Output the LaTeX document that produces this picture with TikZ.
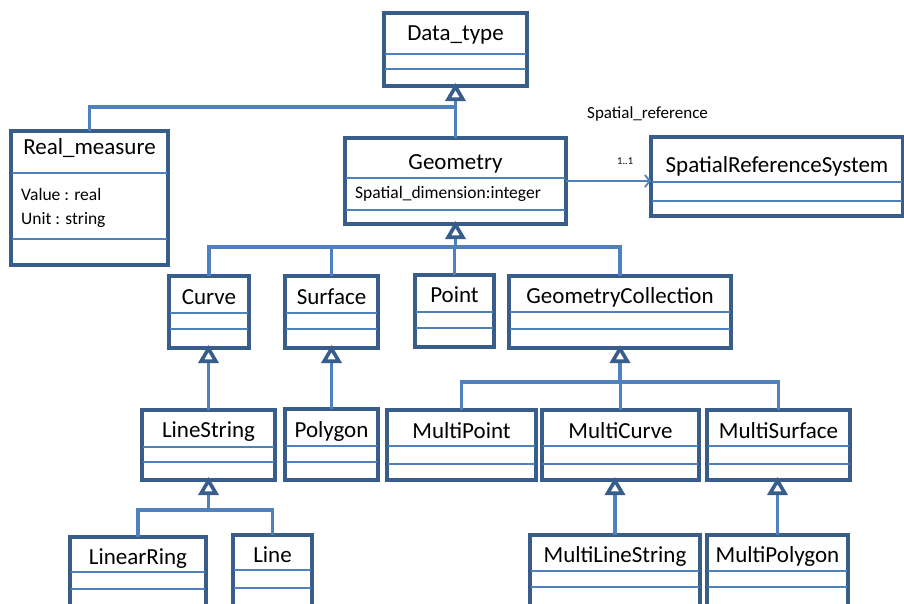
\documentclass[tikz,border=0pt]{standalone}
\usepackage{fontspec}
\setmainfont{Carlito}
\usetikzlibrary{arrows.meta}
\definecolor{umlborder}{HTML}{385D8A}
\definecolor{umlline}{HTML}{4F81BD}
\tikzset{
  classbox/.style={rectangle, draw=umlborder, line width=3.2pt, fill=white, inner sep=0pt, outer sep=0pt},
  sepline/.style={draw=umlline, line width=2.2pt},
  titletext/.style={font=\fontsize{23}{26}\selectfont, anchor=base, inner sep=0pt},
  attrtext/.style={font=\fontsize{17.5}{20}\selectfont, anchor=base west, inner sep=0pt},
  conn/.style={draw=umlline, line width=3.4pt},
  inh/.style={conn, shorten >=-3pt, -{Triangle[color=umlborder, fill=white, length=18pt, width=20pt, line width=3.6pt]}},
  assoc/.style={draw=umlline, line width=1.8pt, -{Straight Barb[length=5pt, width=12pt, line width=1.8pt]}},
  smalllabel/.style={anchor=base west, inner sep=0pt},
}
% class box: name, x1, y1, x2, y2, first separator, second separator, title baseline, title
\newcommand\umlclass[9]{%
  \node[classbox, minimum width={(#4-#2)*1pt}, minimum height={(#5-#3)*1pt}] (#1) at ({(#2+#4)/2},{(#3+#5)/2}) {};
  \draw[sepline] ({#2+1},#6) -- ({#4-1},#6) ({#2+1},#7) -- ({#4-1},#7);
  \node[titletext] (#1-title) at ({(#2+#4)/2},#8) {#9};
}
\begin{document}
\begin{tikzpicture}[x=1pt, y=-1pt]
\useasboundingbox (0,0) rectangle (904,603);
\fill[white] (0,0) rectangle (904,603);
\clip (0,0) rectangle (904,603);

% classes
\umlclass{dt}{384}{13}{527}{86}{54}{69}{40}{Data\_type}
\umlclass{realm}{11}{131}{168}{265}{173}{239}{154}{Real\_measure}
\umlclass{geom}{345}{138}{566}{224}{178}{210}{169}{Geometry}
\umlclass{srs}{651}{137}{903}{216}{182}{201}{172}{SpatialReferenceSystem}
\umlclass{curve}{169}{276}{249}{348}{313}{329}{304}{Curve}
\umlclass{surface}{285}{276}{378}{348}{313}{329}{304}{Surface}
\umlclass{point}{415}{275}{494}{347}{312}{328}{302}{Point}
\umlclass{gc}{509}{276}{731}{348}{312}{329}{303}{GeometryCollection}
\umlclass{lstring}{142}{410}{275}{480}{447}{462}{437}{LineString}
\umlclass{polygon}{285}{409}{378}{480}{446}{462}{437}{Polygon}
\umlclass{mpoint}{387}{410}{536}{480}{446}{464}{438}{MultiPoint}
\umlclass{mcurve}{542}{410}{699}{480}{446}{464}{438}{MultiCurve}
\umlclass{msurf}{707}{410}{850}{480}{446}{464}{438}{MultiSurface}
\umlclass{lring}{70}{537}{206}{625}{572}{589}{564}{LinearRing}
\umlclass{line}{233}{535}{312}{625}{570}{588}{562}{Line}
\umlclass{mls}{530}{535}{700}{625}{571}{587}{562}{MultiLineString}
\umlclass{mpoly}{707}{535}{848}{625}{571}{587}{562}{MultiPolygon}

% attributes
\node[attrtext] (realm-a1) at (21,200) {Value : real};
\node[attrtext] (realm-a2) at (21,224) {Unit : string};
\node[attrtext] (geom-a1) at (355,198) {Spatial\_dimension:integer};

% association to the reference system
\draw[assoc] (geom.east) -- (geom.east -| srs.west);
\node[smalllabel, font=\fontsize{17}{20}\selectfont] (assoc-name) at (587,118) {Spatial\_reference};
\node[smalllabel, font=\fontsize{10.5}{12}\selectfont] (assoc-mult) at (617,164) {1..1};

% generalisation joints
\coordinate (j1) at (455.5,107);
\coordinate (j2) at (455.5,247);
\coordinate (j3) at (620,382);
\coordinate (j4) at (208.5,510);

% Data_type
\draw[conn] (realm.north) |- (j1);
\draw[inh] (geom.north) -- (dt.south);

% Geometry
\draw[conn] (curve.north) |- (j2) -| (gc.north);
\draw[conn] (surface.north) -- (surface.north |- j2);
\draw[conn] (point.north) -- (point.north |- j2);
\draw[inh] (j2) -- (geom.south);

% Curve, Surface
\draw[inh] (lstring.north) -- (lstring.north |- curve.south);
\draw[inh] (polygon.north) -- (polygon.north |- surface.south);

% GeometryCollection
\draw[conn] (mpoint.north) |- (j3) -| (msurf.north);
\draw[conn] (mcurve.north) -- (mcurve.north |- j3);
\draw[inh] (j3) -- (gc.south);

% LineString
\draw[conn] (lring.north) |- (j4) -| (line.north);
\draw[inh] (j4) -- (lstring.south);

% MultiCurve, MultiSurface
\draw[inh] (mls.north) -- (mls.north |- mcurve.south);
\draw[inh] (mpoly.north) -- (mpoly.north |- msurf.south);
\end{tikzpicture}
\end{document}
